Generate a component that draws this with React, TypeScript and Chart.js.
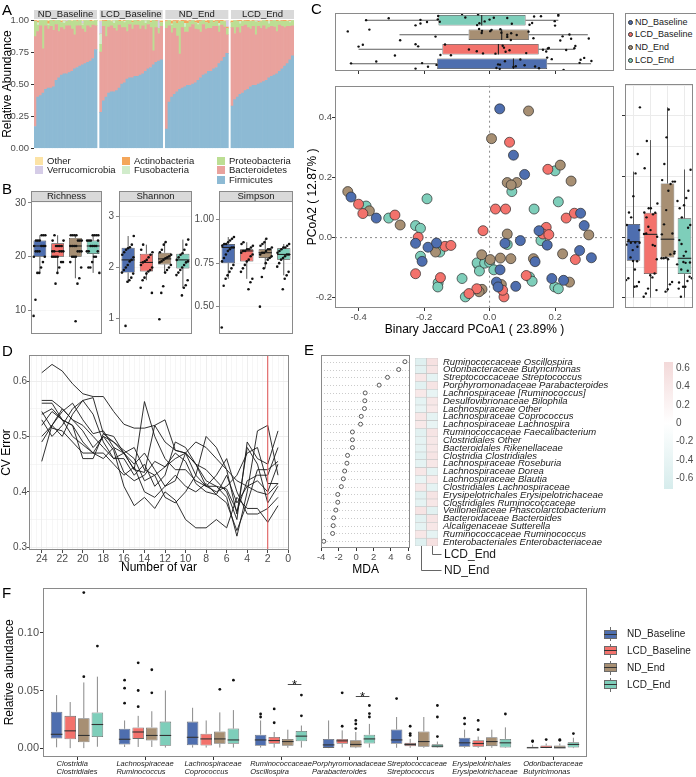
import React, { useEffect, useRef } from "react";
import { Chart, registerables } from "chart.js";

Chart.register(...registerables);

const FONT = "'Liberation Sans', Arial, Helvetica, sans-serif";
Chart.defaults.font.family = FONT;
Chart.defaults.color = "#4D4D4D";

const TICK_COLOR = "#4D4D4D";
const FRAME_COLOR = "#8A8A8A";
const GROUPS = ["ND_Baseline", "LCD_Baseline", "ND_End", "LCD_End"];
const GROUP_COLORS = ["#4E6EAF", "#F3726C", "#A78F73", "#7ECEBA"];

// ---------------- Panel A : relative abundance ----------------
const PHYLA = ["Firmicutes", "Bacteroidetes", "Proteobacteria", "Fusobacteria", "Actinobacteria", "Verrucomicrobia", "Other"];
const PHYLA_COLORS = ["#8DBAD4", "#E9A29D", "#BCDE93", "#D1ECCB", "#F4A65A", "#D5CCE7", "#FCE3A6"];
const A_Y_TICKS = [0, 0.25, 0.5, 0.75, 1];
const FIRMICUTES = [
  [0.17, 0.40, 0.41, 0.43, 0.46, 0.47, 0.47, 0.48, 0.53, 0.55, 0.57, 0.58, 0.58, 0.59, 0.60, 0.62, 0.63, 0.64, 0.65, 0.66, 0.67, 0.68, 0.70, 0.77],
  [0.28, 0.37, 0.40, 0.43, 0.44, 0.44, 0.45, 0.47, 0.50, 0.51, 0.54, 0.55, 0.55, 0.56, 0.56, 0.57, 0.58, 0.60, 0.62, 0.63, 0.65, 0.67, 0.68, 0.69],
  [0.15, 0.36, 0.40, 0.42, 0.44, 0.46, 0.47, 0.48, 0.49, 0.49, 0.50, 0.51, 0.53, 0.55, 0.57, 0.58, 0.60, 0.60, 0.62, 0.63, 0.66, 0.68, 0.71, 0.74],
  [0.33, 0.38, 0.40, 0.42, 0.43, 0.45, 0.46, 0.48, 0.49, 0.49, 0.50, 0.51, 0.52, 0.53, 0.55, 0.56, 0.57, 0.58, 0.60, 0.62, 0.64, 0.66, 0.69, 0.72],
];
const PROTEOBACTERIA = [
  [0.12, 0.05, 0.04, 0.22, 0.04, 0.03, 0.05, 0.07, 0.03, 0.09, 0.04, 0.05, 0.03, 0.04, 0.06, 0.11, 0.03, 0.04, 0.03, 0.09, 0.04, 0.05, 0.03, 0.04],
  [0.06, 0.04, 0.12, 0.05, 0.03, 0.04, 0.08, 0.03, 0.05, 0.04, 0.09, 0.03, 0.05, 0.04, 0.03, 0.06, 0.04, 0.05, 0.03, 0.04, 0.24, 0.05, 0.04, 0.03],
  [0.05, 0.04, 0.06, 0.05, 0.10, 0.25, 0.05, 0.04, 0.07, 0.04, 0.03, 0.05, 0.04, 0.08, 0.03, 0.05, 0.04, 0.06, 0.03, 0.04, 0.05, 0.03, 0.04, 0.05],
  [0.04, 0.10, 0.05, 0.07, 0.04, 0.03, 0.05, 0.06, 0.04, 0.10, 0.03, 0.05, 0.04, 0.06, 0.03, 0.04, 0.05, 0.08, 0.03, 0.04, 0.05, 0.04, 0.03, 0.04],
];
const FUSOBACTERIA = [
  [0, 0.02, 0, 0, 0, 0.01, 0, 0, 0, 0, 0, 0.02, 0, 0, 0, 0, 0, 0, 0.01, 0, 0, 0, 0, 0],
  [0.08, 0, 0, 0, 0, 0.02, 0, 0, 0, 0.01, 0, 0, 0, 0, 0, 0, 0, 0.02, 0, 0, 0, 0, 0, 0],
  [0, 0, 0.01, 0, 0, 0, 0, 0.03, 0, 0, 0, 0, 0.01, 0, 0, 0, 0, 0, 0, 0, 0.02, 0, 0, 0],
  [0, 0, 0, 0.02, 0, 0, 0, 0, 0, 0.01, 0, 0, 0, 0, 0.02, 0, 0, 0, 0, 0, 0, 0, 0.01, 0],
];
const ACTINOBACTERIA = [
  [0.005, 0.01, 0, 0.005, 0, 0.02, 0, 0.005, 0, 0, 0.01, 0, 0.005, 0, 0, 0.005, 0.01, 0, 0, 0.005, 0, 0.01, 0, 0],
  [0, 0.005, 0.01, 0, 0.005, 0, 0, 0.01, 0, 0.005, 0, 0, 0.01, 0, 0.005, 0, 0, 0.005, 0, 0.01, 0, 0.005, 0, 0.01],
  [0.01, 0.005, 0.02, 0.01, 0.02, 0.005, 0.01, 0.02, 0.015, 0.01, 0.005, 0.01, 0.02, 0.01, 0.005, 0.01, 0.02, 0.005, 0.01, 0.005, 0.02, 0.01, 0.005, 0.01],
  [0.01, 0, 0.005, 0.01, 0, 0.005, 0.01, 0, 0.005, 0, 0.01, 0.005, 0, 0.01, 0, 0.005, 0, 0.01, 0, 0.005, 0.01, 0, 0.005, 0],
];
const VERRUCOMICROBIA = [
  [0, 0, 0, 0, 0, 0, 0, 0, 0, 0, 0, 0, 0.01, 0, 0, 0, 0, 0, 0.02, 0, 0, 0, 0, 0],
  [0.10, 0, 0, 0, 0, 0, 0, 0, 0, 0, 0, 0, 0, 0, 0, 0, 0, 0, 0, 0, 0, 0, 0.06, 0],
  [0, 0, 0, 0, 0, 0, 0, 0, 0, 0, 0, 0, 0, 0, 0, 0, 0, 0, 0, 0, 0, 0, 0, 0.05],
  [0, 0, 0, 0, 0, 0, 0, 0, 0, 0, 0.01, 0, 0, 0, 0, 0, 0, 0, 0, 0, 0, 0, 0, 0],
];
const OTHER = [
  [0.005, 0.01, 0.005, 0, 0.005, 0.01, 0, 0.005, 0.005, 0, 0.01, 0.005, 0, 0.005, 0.01, 0, 0.005, 0.005, 0.01, 0, 0.005, 0, 0.01, 0.005],
  [0.01, 0.005, 0, 0.005, 0.01, 0.005, 0.005, 0, 0.01, 0.005, 0, 0.005, 0.01, 0, 0.005, 0.01, 0.005, 0, 0.005, 0.01, 0, 0.005, 0.005, 0.01],
  [0.005, 0, 0.01, 0.005, 0.005, 0.01, 0, 0.005, 0.01, 0.005, 0, 0.01, 0.005, 0.005, 0, 0.01, 0.005, 0, 0.01, 0.005, 0.005, 0, 0.01, 0.005],
  [0.01, 0.005, 0.005, 0, 0.01, 0.005, 0, 0.01, 0.005, 0.005, 0, 0.01, 0.005, 0, 0.01, 0.005, 0.005, 0, 0.01, 0.005, 0, 0.01, 0.005, 0.005],
];

// ---------------- Panel B : alpha diversity ----------------
// stats = [lower whisker, Q1, median, Q3, upper whisker]
const B_RICH_TICKS = [10, 20, 30];
const B_RICH_STATS = [[17, 20, 22, 23, 24], [17, 20, 21, 22.5, 24], [16, 20, 22, 23.5, 24], [17, 20.5, 22, 23, 24]];
const B_RICH_DOTS = [
  [24, 24, 24, 23, 23, 23, 22, 22, 22, 22, 21, 21, 21, 20, 20, 19, 18, 17, 17, 12, 9],
  [24, 23, 23, 22, 22, 22, 22, 21, 21, 21, 21, 21, 20, 20, 20, 20, 19, 19, 18, 17, 15],
  [24, 24, 24, 24, 23, 23, 23, 22, 22, 22, 22, 21, 21, 21, 20, 20, 20, 19, 18, 16, 15, 8],
  [24, 24, 24, 24, 23, 23, 23, 23, 22, 22, 22, 22, 21, 21, 21, 20, 20, 19, 18, 18, 17],
];
const B_SHAN_TICKS = [1, 2, 3];
const B_SHAN_STATS = [[1.7, 1.9, 2.15, 2.39, 2.62], [1.75, 1.92, 2.1, 2.27, 2.45], [1.9, 2.06, 2.17, 2.29, 2.5], [1.6, 1.98, 2.15, 2.27, 2.55]];
const B_SHAN_DOTS = [
  [2.62, 2.45, 2.4, 2.38, 2.35, 2.3, 2.25, 2.2, 2.15, 2.12, 2.05, 2.0, 1.95, 1.9, 1.88, 1.8, 1.75, 1.72, 0.85],
  [2.45, 2.35, 2.3, 2.25, 2.2, 2.15, 2.12, 2.1, 2.05, 2.0, 1.95, 1.92, 1.88, 1.8, 1.75, 1.6, 1.5],
  [2.5, 2.45, 2.35, 2.3, 2.25, 2.22, 2.2, 2.18, 2.15, 2.12, 2.1, 2.05, 2.0, 1.95, 1.9, 1.63, 1.5, 0.98],
  [2.55, 2.45, 2.35, 2.28, 2.25, 2.2, 2.15, 2.12, 2.1, 2.05, 2.0, 1.95, 1.9, 1.85, 1.75, 1.65, 1.6, 1.45],
];
const B_SIMP_TICKS = [0.5, 0.75, 1.0];
const B_SIMP_STATS = [[0.66, 0.75, 0.84, 0.86, 0.9], [0.66, 0.76, 0.82, 0.83, 0.87], [0.72, 0.78, 0.81, 0.83, 0.89], [0.68, 0.77, 0.8, 0.835, 0.86]];
const B_SIMP_DOTS = [
  [0.9, 0.89, 0.88, 0.87, 0.86, 0.86, 0.85, 0.84, 0.84, 0.83, 0.82, 0.8, 0.78, 0.76, 0.74, 0.72, 0.7, 0.68, 0.66, 0.62, 0.38],
  [0.87, 0.86, 0.85, 0.84, 0.83, 0.83, 0.82, 0.82, 0.81, 0.8, 0.79, 0.77, 0.76, 0.74, 0.72, 0.7, 0.66, 0.64, 0.6],
  [0.89, 0.87, 0.86, 0.85, 0.84, 0.83, 0.83, 0.82, 0.81, 0.81, 0.8, 0.79, 0.78, 0.77, 0.75, 0.72, 0.67, 0.5],
  [0.86, 0.85, 0.84, 0.84, 0.83, 0.82, 0.81, 0.8, 0.8, 0.79, 0.78, 0.77, 0.75, 0.73, 0.7, 0.68, 0.66, 0.6],
];

// ---------------- Panel C : PCoA ----------------
const C_ND_BASELINE = [[0.031, 0.428], [0.073, 0.274], [0.107, 0.21], [-0.423, 0.135], [-0.346, 0.065], [0.278, 0.081], [0.289, 0.04], [-0.226, -0.019], [-0.188, -0.032], [-0.162, -0.018], [-0.206, -0.079], [0.047, -0.019], [0.094, -0.01], [0.176, -0.025], [0.151, 0.023], [0.139, -0.08], [0.032, -0.107], [0.275, -0.043], [0.311, -0.067], [0.19, -0.136], [0.226, -0.142], [0.021, -0.148], [0.08, -0.162], [0.026, -0.164]];
const C_LCD_BASELINE = [[0.061, 0.317], [0.178, 0.227], [-0.4, 0.111], [-0.387, 0.08], [-0.289, 0.075], [0.018, 0.095], [0.049, 0.095], [0.234, 0.065], [0.259, 0.081], [-0.218, 0.001], [-0.136, -0.029], [-0.118, -0.026], [-0.02, 0.023], [0.173, 0.034], [0.163, 0.012], [0.181, 0.01], [0.262, -0.073], [-0.226, -0.12], [-0.15, -0.133], [0.112, -0.126], [-0.039, -0.17], [-0.063, -0.186], [0.044, -0.197], [0.04, -0.175]];
const C_ND_END = [[0.119, 0.421], [0.006, 0.329], [0.216, 0.241], [0.249, 0.188], [0.054, 0.183], [0.083, 0.183], [0.066, 0.175], [-0.433, 0.153], [-0.367, 0.089], [-0.273, 0.042], [0.303, 0.009], [-0.165, -0.048], [0.054, 0.012], [-0.024, -0.057], [0.002, -0.073], [0.033, -0.068], [0.065, -0.07], [0.134, -0.07], [0.223, -0.054], [0.244, -0.148], [0.036, -0.156], [-0.023, -0.172], [-0.032, -0.18]];
const C_LCD_END = [[0.2, 0.222], [0.068, 0.153], [-0.191, 0.129], [-0.377, 0.105], [-0.308, 0.065], [0.136, 0.095], [0.21, 0.119], [-0.226, 0.04], [-0.211, 0.031], [-0.152, -0.048], [-0.211, -0.062], [0.054, -0.023], [0.157, -0.01], [-0.035, -0.09], [-0.038, -0.084], [-0.031, -0.111], [-0.015, -0.085], [0, -0.082], [0.013, -0.107], [-0.157, -0.15], [-0.084, -0.136], [0.122, -0.131], [0.13, -0.145], [0.199, -0.164], [-0.158, -0.164], [-0.074, -0.197], [0.21, -0.17]];
const C_POINTS = [C_ND_BASELINE, C_LCD_BASELINE, C_ND_END, C_LCD_END];
const C_X_TICKS = [-0.4, -0.2, 0, 0.2];
const C_Y_TICKS = [-0.2, 0, 0.2, 0.4];
const C_Y_GRID = [-0.2, -0.1, 0, 0.1, 0.2, 0.3, 0.4, 0.5];
const C_X_STATS = [[-0.425, -0.16, 0.073, 0.176, 0.31], [-0.4, -0.144, 0.027, 0.15, 0.26], [-0.275, -0.064, 0.037, 0.12, 0.3], [-0.38, -0.156, -0.024, 0.11, 0.21]];
const C_Y_STATS = [[-0.2, -0.078, -0.015, 0.043, 0.216], [-0.2, -0.122, 0.009, 0.08, 0.32], [-0.18, -0.067, -0.007, 0.177, 0.428], [-0.2, -0.122, -0.07, 0.062, 0.223]];
const C_TOP_ORDER = [3, 2, 1, 0];

// ---------------- Panel D : CV error ----------------
const NVAR = [24, 23, 22, 21, 20, 19, 18, 17, 16, 15, 14, 13, 12, 11, 10, 9, 8, 7, 6, 5, 4, 3, 2, 1];
const CV_1 = [0.615, 0.63, 0.618, 0.595, 0.577, 0.572, 0.572, 0.545, 0.522, 0.515, 0.515, 0.52, 0.49, 0.475, 0.47, 0.45, 0.41, 0.41, 0.405, 0.365, 0.42, 0.43, 0.43, 0.48];
const CV_2 = [0.455, 0.52, 0.5, 0.54, 0.565, 0.57, 0.505, 0.49, 0.47, 0.44, 0.563, 0.5, 0.46, 0.44, 0.44, 0.42, 0.41, 0.43, 0.46, 0.4, 0.36, 0.36, 0.37, 0.39];
const CV_3 = [0.5, 0.52, 0.55, 0.53, 0.51, 0.48, 0.5, 0.49, 0.475, 0.46, 0.42, 0.43, 0.39, 0.38, 0.4, 0.43, 0.5, 0.48, 0.44, 0.36, 0.48, 0.45, 0.38, 0.41];
const CV_4 = [0.56, 0.56, 0.53, 0.52, 0.49, 0.47, 0.47, 0.45, 0.43, 0.445, 0.4, 0.39, 0.41, 0.42, 0.47, 0.45, 0.42, 0.41, 0.39, 0.32, 0.4, 0.51, 0.52, 0.43];
const CV_5 = [0.545, 0.515, 0.51, 0.49, 0.47, 0.47, 0.5, 0.475, 0.41, 0.375, 0.39, 0.37, 0.4, 0.385, 0.35, 0.335, 0.335, 0.35, 0.335, 0.39, 0.37, 0.37, 0.345, 0.375];
const CV_6 = [0.54, 0.55, 0.53, 0.52, 0.46, 0.46, 0.505, 0.5, 0.47, 0.48, 0.44, 0.43, 0.445, 0.46, 0.47, 0.49, 0.48, 0.46, 0.44, 0.42, 0.41, 0.4, 0.395, 0.415];
const CV_7 = [0.49, 0.52, 0.545, 0.56, 0.53, 0.505, 0.51, 0.48, 0.47, 0.44, 0.435, 0.52, 0.53, 0.475, 0.47, 0.43, 0.41, 0.4, 0.41, 0.43, 0.47, 0.48, 0.415, 0.415];
const CV_8 = [0.565, 0.565, 0.55, 0.53, 0.52, 0.5, 0.48, 0.46, 0.47, 0.45, 0.47, 0.44, 0.41, 0.43, 0.41, 0.4, 0.415, 0.395, 0.38, 0.33, 0.38, 0.44, 0.44, 0.455];
const CV_9 = [0.53, 0.5, 0.52, 0.55, 0.565, 0.54, 0.49, 0.46, 0.46, 0.43, 0.45, 0.41, 0.43, 0.49, 0.48, 0.45, 0.44, 0.42, 0.4, 0.35, 0.49, 0.46, 0.45, 0.51];
const CV_10 = [0.52, 0.545, 0.53, 0.5, 0.485, 0.47, 0.46, 0.48, 0.435, 0.42, 0.43, 0.455, 0.445, 0.47, 0.455, 0.415, 0.4, 0.395, 0.43, 0.38, 0.41, 0.42, 0.4, 0.45];
const CV_LINES = [CV_1, CV_2, CV_3, CV_4, CV_5, CV_6, CV_7, CV_8, CV_9, CV_10];
const D_X_LABELS = [24, 22, 20, 18, 16, 14, 12, 10, 8, 6, 4, 2, 0];
const D_Y_LABELS = [0.3, 0.4, 0.5, 0.6];
const D_Y_GRID = [0.3, 0.35, 0.4, 0.45, 0.5, 0.55, 0.6];
const OPTIMAL_VAR = 2;

// ---------------- Panel E : MDA + heatmap ----------------
const TAXA = [
  "Ruminococcaceae Oscillospira", "Odoribacteraceae Butyricimonas", "Streptococcaceae Streptococcus",
  "Porphyromonadaceae Parabacteroides", "Lachnospiraceae [Ruminococcus]", "Desulfovibrionaceae Bilophila",
  "Lachnospiraceae Other", "Lachnospiraceae Coprococcus", "Lachnospiraceae Lachnospira",
  "Ruminococcaceae Faecalibacterium", "Clostridiales Other", "Bacteroidales Rikenellaceae",
  "Clostridia Clostridiales", "Lachnospiraceae Roseburia", "Lachnospiraceae Dorea",
  "Lachnospiraceae Blautia", "Clostridiales Lachnospiraceae", "Erysipelotrichales Erysipelotrichaceae",
  "Clostridiales Ruminococcaceae", "Veillonellaceae Phascolarctobacterium", "Bacteroidaceae Bacteroides",
  "Alcaligenaceae Sutterella", "Ruminococcaceae Ruminococcus", "Enterobacteriales Enterobacteriaceae",
];
const MDA = [5.6, 4.88, 3.6, 2.64, 1.04, 1.0, 0.96, 0.59, 0.51, -0.42, -0.42, -0.42, -0.98, -1.05, -1.31, -1.46, -1.69, -2.1, -2.1, -2.32, -2.58, -2.62, -2.69, -3.7];
const HEAT_ND_END = [-0.55, -0.5, 0.45, -0.5, 0.4, -0.45, -0.4, 0.45, 0.4, -0.5, -0.45, -0.45, -0.5, -0.45, 0.45, -0.4, 0.45, -0.5, -0.45, 0.5, -0.5, -0.45, 0.45, -0.55];
const HEAT_LCD_END = [0.55, 0.5, -0.45, 0.5, -0.4, 0.45, 0.4, -0.45, -0.4, 0.5, 0.45, 0.45, 0.5, 0.45, -0.45, 0.4, -0.45, 0.5, 0.45, -0.5, 0.5, 0.45, -0.45, 0.55];
const HEAT_COLUMNS = ["ND_End", "LCD_End"];
const E_X_TICKS = [-4, -2, 0, 2, 4, 6];
const COLORBAR_TICKS = [0.6, 0.4, 0.2, 0, -0.2, -0.4, -0.6];

// ---------------- Panel F : genus boxplots ----------------
const F_FAMILY = ["Clostridia", "Lachnospiraceae", "Lachnospiraceae", "Ruminococcaceae", "Porphyromonadaceae", "Streptococcaceae", "Erysipelotrichales", "Odoribacteraceae"];
const F_GENUS = ["Clostridiales", "Ruminococcus", "Coprococcus", "Oscillospira", "Parabacteroides", "Streptococcus", "Erysipelotrichaceae", "Butyricimonas"];
const F_Y_TICKS = [0, 0.05, 0.1];
const F_ND_BASELINE = [[0.0007, 0.0083, 0.012, 0.0316, 0.046], [0.001, 0.0031, 0.0077, 0.0168, 0.024], [0.0005, 0.0025, 0.0094, 0.023, 0.035], [0.0005, 0.002, 0.0071, 0.0117, 0.024], [0, 0.0002, 0.0028, 0.008, 0.024], [0.0003, 0.0037, 0.0071, 0.0162, 0.027], [0.0003, 0.0011, 0.0046, 0.0091, 0.016], [0, 0, 0.0003, 0.0011, 0.003]];
const F_LCD_BASELINE = [[0, 0.0077, 0.015, 0.028, 0.04], [0.001, 0.008, 0.014, 0.018, 0.028], [0.0005, 0.0023, 0.008, 0.0125, 0.024], [0.0005, 0.0037, 0.0066, 0.0097, 0.014], [0.0005, 0.0037, 0.0063, 0.008, 0.0154], [0.0003, 0.0017, 0.0032, 0.0046, 0.008], [0.0003, 0.0011, 0.004, 0.0068, 0.01], [0, 0.0003, 0.0006, 0.0023, 0.004]];
const F_ND_END = [[0, 0.0051, 0.011, 0.026, 0.057], [0.001, 0.0066, 0.011, 0.018, 0.032], [0.0005, 0.0037, 0.008, 0.0145, 0.031], [0.0003, 0.002, 0.0057, 0.008, 0.016], [0, 0.0006, 0.0032, 0.0068, 0.014], [0.0003, 0.0011, 0.0057, 0.0145, 0.027], [0.0003, 0.0017, 0.0057, 0.0094, 0.016], [0, 0, 0.0003, 0.0023, 0.004]];
const F_LCD_END = [[0.0012, 0.0097, 0.0205, 0.031, 0.062], [0.0005, 0.002, 0.011, 0.023, 0.05], [0.0005, 0.0037, 0.0071, 0.017, 0.033], [0.0005, 0.006, 0.0104, 0.0148, 0.0196], [0.0005, 0.004, 0.008, 0.0117, 0.021], [0.0002, 0.0006, 0.0017, 0.0034, 0.0057], [0.0002, 0.0006, 0.0046, 0.008, 0.018], [0, 0.0006, 0.0032, 0.0051, 0.009]];
const F_ND_BASELINE_OUT = [[], [0.039, 0.052, 0.059], [], [0.027, 0.0296], [], [0.043], [0.021, 0.026], [0.0057, 0.0063]];
const F_LCD_BASELINE_OUT = [[], [0.036, 0.05, 0.074], [], [0.022, 0.034], [0.019, 0.048], [0.011, 0.0126, 0.019], [0.016, 0.024], [0.0074]];
const F_ND_END_OUT = [[0.062, 0.135], [0.048, 0.068], [0.051], [], [0.017, 0.021, 0.024], [], [], [0.0068, 0.0074]];
const F_LCD_END_OUT = [[0.0886], [], [0.059], [0.028, 0.046], [0.027, 0.03, 0.037], [0.01, 0.027, 0.037], [0.0296], [0.0126]];
const F_STATS = [F_ND_BASELINE, F_LCD_BASELINE, F_ND_END, F_LCD_END];
const F_OUTLIERS = [F_ND_BASELINE_OUT, F_LCD_BASELINE_OUT, F_ND_END_OUT, F_LCD_END_OUT];
const SIG_GROUPS = [3, 4];
const SIG_LEVELS = [0.0553, 0.045];

// ---------------- helpers ----------------
const jitter = (k: number) => ((k * 0.6180339887 + 0.31) % 1) - 0.5;
const fixWidth = (w: number) => (scale: any) => { scale.width = w; };
const fixHeight = (h: number) => (scale: any) => { scale.height = h; };
const useTicks = (vals: number[]) => (scale: any) => { scale.ticks = vals.map((value) => ({ value })); };
const near = (a: number, list: number[]) => list.some((b) => Math.abs(a - b) < 1e-6);

const baseOptions = (padding: any) => ({
  animation: false,
  responsive: false,
  maintainAspectRatio: false,
  events: [],
  layout: { padding },
  plugins: { legend: { display: false }, tooltip: { enabled: false } },
});

const framePlugin = {
  id: "frame",
  afterDraw(chart: any) {
    const { left, top, right, bottom } = chart.chartArea;
    const ctx = chart.ctx;
    ctx.save();
    ctx.strokeStyle = FRAME_COLOR;
    ctx.lineWidth = 1;
    ctx.strokeRect(Math.round(left) + 0.5, Math.round(top) + 0.5, Math.round(right - left) - 1, Math.round(bottom - top) - 1);
    ctx.restore();
  },
};

const boxPlugin = {
  id: "boxExtras",
  afterDatasetsDraw(chart: any) {
    const ctx = chart.ctx;
    const horizontal = chart.options.indexAxis === "y";
    const vScale = horizontal ? chart.scales.x : chart.scales.y;
    chart.data.datasets.forEach((ds: any, di: number) => {
      if (!ds.boxStats) return;
      const meta = chart.getDatasetMeta(di);
      meta.data.forEach((bar: any, i: number) => {
        const s = ds.boxStats[i];
        const c = horizontal ? bar.y : bar.x;
        const w = horizontal ? bar.height : bar.width;
        const P = (v: number) => vScale.getPixelForValue(v);
        const pt = (vp: number, cp: number) => (horizontal ? [vp, cp] : [cp, vp]);
        const seg = (v1: number, c1: number, v2: number, c2: number) => {
          const [x1, y1] = pt(v1, c1);
          const [x2, y2] = pt(v2, c2);
          ctx.beginPath();
          ctx.moveTo(x1, y1);
          ctx.lineTo(x2, y2);
          ctx.stroke();
        };
        ctx.save();
        ctx.strokeStyle = ds.whiskerColor || "#333";
        ctx.lineWidth = 0.8;
        seg(P(s[3]), c, P(s[4]), c);
        seg(P(s[1]), c, P(s[0]), c);
        ctx.strokeStyle = ds.medianColor || "#222";
        ctx.lineWidth = 1.1;
        seg(P(s[2]), c - w / 2, P(s[2]), c + w / 2);
        ctx.fillStyle = "#111";
        (ds.outliers ? ds.outliers[i] : []).forEach((v: number) => {
          const [x, y] = pt(P(v), c);
          ctx.beginPath();
          ctx.arc(x, y, 1.4, 0, Math.PI * 2);
          ctx.fill();
        });
        (ds.dots ? ds.dots[i] : []).forEach((v: number, k: number) => {
          const off = jitter(k * 3 + i * 7 + 1) * w * (ds.jitterSpread || 1);
          const [x, y] = pt(P(v), c + off);
          ctx.beginPath();
          ctx.arc(x, y, ds.dotRadius || 1.3, 0, Math.PI * 2);
          ctx.fill();
        });
        ctx.restore();
      });
    });
  },
};

const stripPlugin = (text: string) => ({
  id: "strip",
  afterDraw(chart: any) {
    const { left, right, top } = chart.chartArea;
    const ctx = chart.ctx;
    ctx.save();
    ctx.fillStyle = "#D9D9D9";
    ctx.fillRect(left, top - 10, right - left, 10);
    ctx.strokeStyle = FRAME_COLOR;
    ctx.lineWidth = 1;
    ctx.strokeRect(Math.round(left) + 0.5, Math.round(top - 10) + 0.5, Math.round(right - left) - 1, 10);
    ctx.fillStyle = "#1A1A1A";
    ctx.font = `9.5px ${FONT}`;
    ctx.textAlign = "center";
    ctx.textBaseline = "middle";
    ctx.fillText(text, (left + right) / 2, top - 4.5);
    ctx.restore();
  },
});

// ---------------- configs ----------------
function configA() {
  const labels: string[] = [];
  const starts: number[] = [];
  GROUPS.forEach((g, gi) => {
    if (gi > 0) labels.push(`gap${gi}`);
    starts.push(labels.length);
    FIRMICUTES[gi].forEach((_, i) => labels.push(`${g} ${i + 1}`));
  });
  const flat = (arr: number[][]) => {
    const out: (number | null)[] = [];
    arr.forEach((row, gi) => {
      if (gi > 0) out.push(null);
      row.forEach((v) => out.push(v));
    });
    return out;
  };
  const bacteroidetes = FIRMICUTES.map((row, gi) =>
    row.map((f, i) => 1 - f - PROTEOBACTERIA[gi][i] - FUSOBACTERIA[gi][i] - ACTINOBACTERIA[gi][i] - VERRUCOMICROBIA[gi][i] - OTHER[gi][i])
  );
  const layers = [FIRMICUTES, bacteroidetes, PROTEOBACTERIA, FUSOBACTERIA, ACTINOBACTERIA, VERRUCOMICROBIA, OTHER];
  const strips = {
    id: "facetStrips",
    afterDraw(chart: any) {
      const x = chart.scales.x;
      const top = chart.chartArea.top;
      const slot = x.getPixelForValue(1) - x.getPixelForValue(0);
      const ctx = chart.ctx;
      ctx.save();
      starts.forEach((s, gi) => {
        const l = x.getPixelForValue(s) - slot / 2;
        const r = x.getPixelForValue(s + FIRMICUTES[gi].length - 1) + slot / 2;
        ctx.fillStyle = "#D9D9D9";
        ctx.fillRect(l, top - 10, r - l, 9);
        ctx.fillStyle = "#1A1A1A";
        ctx.font = `9.5px ${FONT}`;
        ctx.textAlign = "center";
        ctx.textBaseline = "middle";
        ctx.fillText(GROUPS[gi], (l + r) / 2, top - 5.3);
      });
      ctx.restore();
    },
  };
  return {
    type: "bar",
    data: {
      labels,
      datasets: layers.map((arr, p) => ({
        label: PHYLA[p],
        data: flat(arr),
        backgroundColor: PHYLA_COLORS[p],
        borderWidth: 0,
        barPercentage: 1,
        categoryPercentage: 1,
      })),
    },
    options: {
      ...baseOptions({ left: 0, top: 20, right: 6, bottom: 6 }),
      scales: {
        x: { stacked: true, display: false },
        y: {
          stacked: true,
          min: 0,
          max: 1,
          afterBuildTicks: useTicks(A_Y_TICKS),
          afterFit: fixWidth(34),
          ticks: { callback: (v: number) => v.toFixed(2), font: { size: 9.5 }, color: TICK_COLOR, padding: 2 },
          grid: { drawOnChartArea: false, tickLength: 3, color: "#333" },
          border: { display: false },
          title: { display: true, text: "Relative Abundance", font: { size: 12 }, color: "#000", padding: { top: 0, bottom: 0 } },
        },
      },
    },
    plugins: [strips],
  };
}

function configB(title: string, stats: number[][], dots: number[][], min: number, max: number, ticks: number[], fmt: (v: number) => string, yW: number, rightPad: number) {
  return {
    type: "bar",
    data: {
      labels: GROUPS,
      datasets: [
        {
          data: stats.map((s) => [s[1], s[3]]),
          boxStats: stats,
          dots,
          jitterSpread: 1.0,
          backgroundColor: GROUP_COLORS,
          borderColor: "#333",
          borderWidth: 0.7,
          borderSkipped: false,
          barPercentage: 0.72,
          categoryPercentage: 1,
        },
      ],
    },
    options: {
      ...baseOptions({ left: 0, top: 16, right: rightPad, bottom: 5 }),
      scales: {
        x: { display: false },
        y: {
          min,
          max,
          afterBuildTicks: useTicks(ticks),
          afterFit: fixWidth(yW),
          ticks: { callback: fmt, font: { size: 10 }, color: TICK_COLOR, padding: 2 },
          grid: { color: "#F0F0F0", tickColor: "#333", tickLength: 3, lineWidth: 0.6 },
          border: { display: false },
        },
      },
    },
    plugins: [boxPlugin, framePlugin, stripPlugin(title)],
  };
}

function configCTop() {
  return {
    type: "bar",
    data: {
      labels: C_TOP_ORDER.map((gi) => GROUPS[gi]),
      datasets: [
        {
          data: C_TOP_ORDER.map((gi) => [C_X_STATS[gi][1], C_X_STATS[gi][3]]),
          boxStats: C_TOP_ORDER.map((gi) => C_X_STATS[gi]),
          dots: C_TOP_ORDER.map((gi) => C_POINTS[gi].map((p) => p[0])),
          jitterSpread: 1.2,
          dotRadius: 1.2,
          backgroundColor: C_TOP_ORDER.map((gi) => GROUP_COLORS[gi]),
          borderColor: "#444",
          borderWidth: 0.7,
          borderSkipped: false,
          barPercentage: 0.72,
          categoryPercentage: 1,
        },
      ],
    },
    options: {
      ...baseOptions({ left: 25, top: 13, right: 6, bottom: 0 }),
      indexAxis: "y",
      scales: {
        x: {
          type: "linear",
          min: -0.472,
          max: 0.38,
          afterBuildTicks: useTicks(C_X_TICKS),
          afterFit: fixHeight(9),
          ticks: { display: false },
          grid: { drawOnChartArea: false, tickLength: 3, color: "#333" },
          border: { display: false },
        },
        y: { display: false },
      },
    },
    plugins: [boxPlugin, framePlugin],
  };
}

function configCMain() {
  const zeroLines = {
    id: "zeroLines",
    beforeDatasetsDraw(chart: any) {
      const { left, right, top, bottom } = chart.chartArea;
      const x0 = chart.scales.x.getPixelForValue(0);
      const y0 = chart.scales.y.getPixelForValue(0);
      const ctx = chart.ctx;
      ctx.save();
      ctx.strokeStyle = "#8A8A8A";
      ctx.lineWidth = 1;
      ctx.setLineDash([2, 3]);
      ctx.beginPath();
      ctx.moveTo(x0, top);
      ctx.lineTo(x0, bottom);
      ctx.moveTo(left, y0);
      ctx.lineTo(right, y0);
      ctx.stroke();
      ctx.restore();
    },
  };
  return {
    type: "scatter",
    data: {
      datasets: C_POINTS.map((pts, gi) => ({
        label: GROUPS[gi],
        data: pts.map(([x, y]) => ({ x, y })),
        pointRadius: 5,
        pointBackgroundColor: GROUP_COLORS[gi],
        pointBorderColor: "#2B2B2B",
        pointBorderWidth: 0.7,
      })),
    },
    options: {
      ...baseOptions({ left: 0, top: 4, right: 6, bottom: 2 }),
      scales: {
        x: {
          type: "linear",
          min: -0.472,
          max: 0.38,
          afterBuildTicks: useTicks(C_X_TICKS),
          afterFit: fixHeight(32),
          ticks: { callback: (v: number) => v.toFixed(1), font: { size: 9.5 }, color: TICK_COLOR, padding: 1 },
          grid: { drawOnChartArea: false, tickLength: 3, color: "#333" },
          border: { display: false },
          title: { display: true, text: "Binary Jaccard PCoA1 ( 23.89% )", font: { size: 12 }, color: "#000", padding: { top: 0, bottom: 3 } },
        },
        y: {
          type: "linear",
          min: -0.234,
          max: 0.505,
          afterBuildTicks: useTicks(C_Y_TICKS),
          afterFit: fixWidth(35),
          ticks: { callback: (v: number) => v.toFixed(1), font: { size: 9.5 }, color: TICK_COLOR, padding: 0 },
          grid: { drawOnChartArea: false, tickLength: 3, color: "#333" },
          border: { display: false },
          title: { display: true, text: "PCoA2 ( 12.87% )", font: { size: 12 }, color: "#000", padding: { top: 5, bottom: 0 } },
        },
      },
    },
    plugins: [zeroLines, framePlugin],
  };
}

function configCRight() {
  return {
    type: "bar",
    data: {
      labels: GROUPS,
      datasets: [
        {
          data: C_Y_STATS.map((s) => [s[1], s[3]]),
          boxStats: C_Y_STATS,
          dots: C_POINTS.map((pts) => pts.map((p) => p[1])),
          jitterSpread: 1.1,
          dotRadius: 1.2,
          backgroundColor: GROUP_COLORS,
          borderColor: "#444",
          borderWidth: 0.7,
          borderSkipped: false,
          barPercentage: 0.8,
          categoryPercentage: 1,
        },
      ],
    },
    options: {
      ...baseOptions({ left: 2, top: 4, right: 3, bottom: 4 }),
      scales: {
        x: {
          display: true,
          afterFit: fixHeight(0),
          ticks: { display: false },
          grid: { offset: false, drawTicks: false, color: "#EBEBEB" },
          border: { display: false },
        },
        y: {
          min: -0.234,
          max: 0.505,
          afterBuildTicks: useTicks(C_Y_GRID),
          afterFit: fixWidth(3),
          ticks: { display: false },
          grid: {
            color: "#EBEBEB",
            tickLength: 3,
            tickColor: (c: any) => (c.tick && near(c.tick.value, C_Y_TICKS) ? "#333" : "rgba(0,0,0,0)"),
          },
          border: { display: false },
        },
      },
    },
    plugins: [boxPlugin, framePlugin],
  };
}

function configD() {
  const xGrid: number[] = [];
  for (let v = 0; v <= 25; v += 0.5) xGrid.push(v);
  const optLine = {
    id: "optLine",
    afterDatasetsDraw(chart: any) {
      const x = chart.scales.x.getPixelForValue(OPTIMAL_VAR);
      const { top, bottom } = chart.chartArea;
      const ctx = chart.ctx;
      ctx.save();
      ctx.strokeStyle = "#E05050";
      ctx.lineWidth = 1;
      ctx.beginPath();
      ctx.moveTo(x, top);
      ctx.lineTo(x, bottom);
      ctx.stroke();
      ctx.restore();
    },
  };
  return {
    type: "line",
    data: {
      datasets: CV_LINES.map((arr) => ({
        data: arr.map((v, i) => ({ x: NVAR[i], y: v })),
        borderColor: "#1A1A1A",
        borderWidth: 0.9,
        pointRadius: 0,
        tension: 0,
        fill: false,
      })),
    },
    options: {
      ...baseOptions({ left: 0, top: 15, right: 11, bottom: 0 }),
      scales: {
        x: {
          type: "linear",
          reverse: true,
          min: -0.07,
          max: 25.24,
          afterBuildTicks: useTicks(xGrid),
          afterFit: fixHeight(30),
          ticks: { autoSkip: false, maxRotation: 0, callback: (v: number) => (near(v, D_X_LABELS) ? String(v) : ""), font: { size: 10.5 }, color: TICK_COLOR, padding: 0 },
          grid: {
            color: "#ECECEC",
            lineWidth: (c: any) => (c.tick && near(c.tick.value, D_X_LABELS) ? 0.9 : 0.5),
            tickLength: 3,
            tickColor: (c: any) => (c.tick && near(c.tick.value, D_X_LABELS) ? "#333" : "rgba(0,0,0,0)"),
          },
          border: { display: false },
          title: { display: true, text: "Number of var", font: { size: 12 }, color: "#000", padding: { top: 0, bottom: 5 } },
        },
        y: {
          min: 0.295,
          max: 0.647,
          afterBuildTicks: useTicks(D_Y_GRID),
          afterFit: fixWidth(29),
          ticks: { autoSkip: false, callback: (v: number) => (near(v, D_Y_LABELS) ? v.toFixed(1) : ""), font: { size: 10 }, color: TICK_COLOR, padding: 0 },
          grid: {
            color: "#ECECEC",
            lineWidth: (c: any) => (c.tick && near(c.tick.value, D_Y_LABELS) ? 0.9 : 0.5),
            tickLength: 2,
            tickColor: (c: any) => (c.tick && near(c.tick.value, D_Y_LABELS) ? "#333" : "rgba(0,0,0,0)"),
          },
          border: { display: false },
          title: { display: true, text: "CV Error", font: { size: 12 }, color: "#000", padding: { top: -1, bottom: 0 } },
        },
      },
    },
    plugins: [optLine, framePlugin],
  };
}

function configEDots() {
  const rowLines = {
    id: "rowLines",
    beforeDatasetsDraw(chart: any) {
      const { left, right } = chart.chartArea;
      const y = chart.scales.y;
      const ctx = chart.ctx;
      ctx.save();
      ctx.strokeStyle = "#B5B5B5";
      ctx.lineWidth = 0.7;
      ctx.setLineDash([1, 2]);
      TAXA.forEach((_, i) => {
        const py = Math.round(y.getPixelForValue(i)) + 0.5;
        ctx.beginPath();
        ctx.moveTo(left, py);
        ctx.lineTo(right, py);
        ctx.stroke();
      });
      ctx.restore();
    },
  };
  return {
    type: "scatter",
    data: {
      datasets: [
        {
          data: MDA.map((v, i) => ({ x: v, y: i })),
          pointRadius: 2,
          pointBackgroundColor: "#FFFFFF",
          pointBorderColor: "#333",
          pointBorderWidth: 0.8,
        },
      ],
    },
    options: {
      ...baseOptions({ left: 21, top: 15, right: 3, bottom: 0 }),
      scales: {
        x: {
          type: "linear",
          min: -4.02,
          max: 6.2,
          afterBuildTicks: useTicks(E_X_TICKS),
          afterFit: fixHeight(32),
          ticks: { callback: (v: number) => String(v), font: { size: 9.5 }, color: TICK_COLOR, padding: 1 },
          grid: { drawOnChartArea: false, tickLength: 3, color: "#333" },
          border: { display: false },
          title: { display: true, text: "MDA", font: { size: 12 }, color: "#000", padding: { top: 0, bottom: 3 } },
        },
        y: { type: "linear", display: false, reverse: true, min: -0.86, max: 23.86 },
      },
    },
    plugins: [rowLines, framePlugin],
  };
}

const heatColor = (v: number) => {
  const t = Math.min(1, Math.abs(v) / 0.7);
  const end = v >= 0 ? [243, 217, 217] : [214, 236, 236];
  const c = end.map((e) => Math.round(255 + (e - 255) * t));
  return `rgb(${c.join(",")})`;
};

function configEHeat() {
  const cols = [HEAT_ND_END, HEAT_LCD_END];
  const brackets = {
    id: "brackets",
    afterDraw(chart: any) {
      const { bottom, right } = chart.chartArea;
      const ctx = chart.ctx;
      const last = TAXA.length - 1;
      const drops = [24, 8];
      ctx.save();
      ctx.strokeStyle = "#555";
      ctx.lineWidth = 0.9;
      ctx.fillStyle = "#1A1A1A";
      ctx.font = `12px ${FONT}`;
      ctx.textAlign = "left";
      ctx.textBaseline = "middle";
      HEAT_COLUMNS.forEach((name, ci) => {
        const bar = chart.getDatasetMeta(ci).data[last];
        const cx = Math.round((bar.x + bar.base) / 2) + 0.5;
        const yEnd = Math.round(bottom + drops[ci]) + 0.5;
        ctx.beginPath();
        ctx.moveTo(cx, bottom);
        ctx.lineTo(cx, yEnd);
        ctx.lineTo(right + 3.5, yEnd);
        ctx.stroke();
        ctx.fillText(name, right + 6, yEnd);
      });
      ctx.restore();
    },
  };
  return {
    type: "bar",
    data: {
      labels: TAXA,
      datasets: cols.map((vals, ci) => ({
        label: HEAT_COLUMNS[ci],
        data: vals.map(() => [ci, ci + 1]),
        backgroundColor: vals.map(heatColor),
        borderColor: "#C4C4C4",
        borderWidth: 0.6,
        borderSkipped: false,
        grouped: false,
        barPercentage: 1,
        categoryPercentage: 1,
      })),
    },
    options: {
      ...baseOptions({ left: 5, top: 18, right: 0, bottom: 34 }),
      indexAxis: "y",
      scales: {
        x: { type: "linear", display: false, min: 0, max: 2 },
        y: {
          position: "right",
          afterFit: fixWidth(222),
          ticks: { autoSkip: false, font: { size: 9.5, style: "italic" }, color: "#1A1A1A", padding: 5 },
          grid: { display: false, drawTicks: false },
          border: { display: false },
        },
      },
    },
    plugins: [brackets],
  };
}

function configF() {
  const labelsPlugin = {
    id: "fLabels",
    afterDraw(chart: any) {
      const ctx = chart.ctx;
      const x = chart.scales.x;
      const bottom = chart.chartArea.bottom;
      ctx.save();
      ctx.font = `italic 7.5px ${FONT}`;
      ctx.fillStyle = "#1A1A1A";
      ctx.textAlign = "left";
      ctx.textBaseline = "middle";
      F_FAMILY.forEach((fam, i) => {
        const lines = [fam, F_GENUS[i]];
        const w = Math.max(...lines.map((l) => ctx.measureText(l).width));
        const cx = x.getPixelForValue(i);
        lines.forEach((l, k) => ctx.fillText(l, cx - w / 2, bottom + 6.5 + k * 8.5));
      });
      ctx.restore();
    },
  };
  const sigPlugin = {
    id: "sig",
    afterDatasetsDraw(chart: any) {
      const ctx = chart.ctx;
      ctx.save();
      ctx.strokeStyle = "#333";
      ctx.lineWidth = 0.9;
      ctx.fillStyle = "#111";
      ctx.font = `13px ${FONT}`;
      ctx.textAlign = "center";
      ctx.textBaseline = "alphabetic";
      SIG_GROUPS.forEach((g, k) => {
        const b1 = chart.getDatasetMeta(2).data[g];
        const b2 = chart.getDatasetMeta(3).data[g];
        const y = Math.round(chart.scales.y.getPixelForValue(SIG_LEVELS[k])) + 0.5;
        ctx.beginPath();
        ctx.moveTo(b1.x, y);
        ctx.lineTo(b2.x, y);
        ctx.stroke();
        ctx.fillText("*", (b1.x + b2.x) / 2, y + 4);
      });
      ctx.restore();
    },
  };
  return {
    type: "bar",
    data: {
      labels: F_FAMILY.map((f, i) => `${f} ${F_GENUS[i]}`),
      datasets: F_STATS.map((stats, gi) => ({
        label: GROUPS[gi],
        data: stats.map((s) => [s[1], s[3]]),
        boxStats: stats,
        outliers: F_OUTLIERS[gi],
        whiskerColor: "#6B6B6B",
        medianColor: "#333",
        backgroundColor: GROUP_COLORS[gi],
        borderColor: "#6B6B6B",
        borderWidth: 0.8,
        borderSkipped: false,
        categoryPercentage: 0.8,
        barPercentage: 0.85,
      })),
    },
    options: {
      ...baseOptions({ left: 0, top: 5, right: 109, bottom: 0 }),
      scales: {
        x: {
          afterFit: fixHeight(20),
          ticks: { display: false },
          grid: { offset: false, drawOnChartArea: false, tickLength: 3, color: "#333" },
          border: { display: false },
        },
        y: {
          min: -0.0077,
          max: 0.1393,
          afterBuildTicks: useTicks(F_Y_TICKS),
          afterFit: fixWidth(43),
          ticks: { callback: (v: number) => v.toFixed(2), font: { size: 11 }, color: TICK_COLOR, padding: 1 },
          grid: { drawOnChartArea: false, tickLength: 3, color: "#333" },
          border: { display: false },
          title: { display: true, text: "Relative abundance", font: { size: 12 }, color: "#000", padding: { top: 2, bottom: 0 } },
        },
      },
    },
    plugins: [boxPlugin, framePlugin, labelsPlugin, sigPlugin],
  };
}

const PANELS = [
  { key: "A", left: 0, top: 0, w: 300, h: 156, make: configA },
  { key: "B1", left: 0, top: 185, w: 106, h: 157, make: () => configB("Richness", B_RICH_STATS, B_RICH_DOTS, 5.64, 30.36, B_RICH_TICKS, (v) => String(v), 31, 4) },
  { key: "B2", left: 95, top: 185, w: 100, h: 157, make: () => configB("Shannon", B_SHAN_STATS, B_SHAN_DOTS, 0.69, 3.31, B_SHAN_TICKS, (v) => String(v), 24, 3) },
  { key: "B3", left: 190, top: 185, w: 106, h: 157, make: () => configB("Simpson", B_SIMP_STATS, B_SIMP_DOTS, 0.343, 1.107, B_SIMP_TICKS, (v) => v.toFixed(2), 29, 3) },
  { key: "CT", left: 310, top: 0, w: 310, h: 80, make: configCTop },
  { key: "CM", left: 300, top: 80, w: 320, h: 262, make: configCMain },
  { key: "CR", left: 620, top: 80, w: 76, h: 232, make: configCRight },
  { key: "D", left: 0, top: 340, w: 300, h: 240, make: configD },
  { key: "ED", left: 300, top: 340, w: 115, h: 240, make: configEDots },
  { key: "EH", left: 410, top: 340, w: 250, h: 240, make: configEHeat },
  { key: "F", left: 0, top: 580, w: 696, h: 197, make: configF },
];

const A_LEGEND = [
  { name: "Other", color: PHYLA_COLORS[6], x: 35, row: 0 },
  { name: "Verrucomicrobia", color: PHYLA_COLORS[5], x: 35, row: 1 },
  { name: "Actinobacteria", color: PHYLA_COLORS[4], x: 122, row: 0 },
  { name: "Fusobacteria", color: PHYLA_COLORS[3], x: 122, row: 1 },
  { name: "Proteobacteria", color: PHYLA_COLORS[2], x: 217, row: 0 },
  { name: "Bacteroidetes", color: PHYLA_COLORS[1], x: 217, row: 1 },
  { name: "Firmicutes", color: PHYLA_COLORS[0], x: 217, row: 2 },
];

const abs = (x: number, y: number, extra: any = {}) => ({ position: "absolute" as const, left: x, top: y, whiteSpace: "nowrap" as const, ...extra });

export default function App() {
  const canvases = useRef<(HTMLCanvasElement | null)[]>([]);
  useEffect(() => {
    const charts = PANELS.map((p, i) => new Chart(canvases.current[i] as HTMLCanvasElement, p.make() as any));
    return () => charts.forEach((c) => c.destroy());
  }, []);

  const letter = (t: string, x: number, y: number) => (
    <div key={t} style={abs(x, y, { fontSize: 15, lineHeight: "15px", color: "#000" })}>{t}</div>
  );

  return (
    <div style={{ position: "absolute", left: 0, top: 0, width: 696, height: 777, overflow: "hidden", background: "#fff", fontFamily: FONT, color: "#1A1A1A" }}>
      {PANELS.map((p, i) => (
        <canvas
          key={p.key}
          ref={(el) => {
            canvases.current[i] = el;
          }}
          width={p.w}
          height={p.h}
          style={{ position: "absolute", left: p.left, top: p.top, width: p.w, height: p.h, display: "block" }}
        />
      ))}

      {letter("A", 2, 2)}
      {letter("B", 2, 181)}
      {letter("C", 311, 1)}
      {letter("D", 2, 343)}
      {letter("E", 304, 342)}
      {letter("F", 2, 585)}

      {A_LEGEND.map((e) => {
        const cy = 160.5 + e.row * 9.7;
        return (
          <React.Fragment key={e.name}>
            <div style={abs(e.x, cy - 4, { width: 8, height: 8, background: e.color })} />
            <div style={abs(e.x + 12, cy - 5, { fontSize: 9.5, lineHeight: "10px" })}>{e.name}</div>
          </React.Fragment>
        );
      })}

      <div style={abs(625, 13, { width: 80, height: 57, border: `1px solid ${FRAME_COLOR}`, boxSizing: "border-box" })} />
      {GROUPS.map((g, gi) => {
        const cy = 22 + gi * 12.7;
        return (
          <React.Fragment key={g}>
            <div style={abs(627.5, cy - 2.5, { width: 5, height: 5, borderRadius: "50%", background: GROUP_COLORS[gi], border: "0.7px solid #333", boxSizing: "border-box" })} />
            <div style={abs(635, cy - 4.5, { fontSize: 9, lineHeight: "9px" })}>{g}</div>
          </React.Fragment>
        );
      })}

      <div style={abs(664, 362, { width: 9, height: 127, background: "linear-gradient(to bottom, #F3D9D9 0%, #FFFFFF 48%, #D6ECEC 100%)" })} />
      {COLORBAR_TICKS.map((v) => (
        <div key={v} style={abs(676, 423 - v * 91.7 - 5, { fontSize: 10, lineHeight: "10px", color: TICK_COLOR })}>{String(v)}</div>
      ))}

      {GROUPS.map((g, gi) => {
        const cy = 634 + gi * 16.9;
        return (
          <React.Fragment key={`f-${g}`}>
            <div style={abs(610, cy - 7, { width: 1, height: 14, background: "#6B6B6B" })} />
            <div style={abs(604, cy - 4.5, { width: 13, height: 9, background: GROUP_COLORS[gi], border: "0.8px solid #6B6B6B", boxSizing: "border-box" })} />
            <div style={abs(604, cy - 0.5, { width: 13, height: 1, background: "#333" })} />
            <div style={abs(627, cy - 5, { fontSize: 10, lineHeight: "10px" })}>{g}</div>
          </React.Fragment>
        );
      })}
    </div>
  );
}
